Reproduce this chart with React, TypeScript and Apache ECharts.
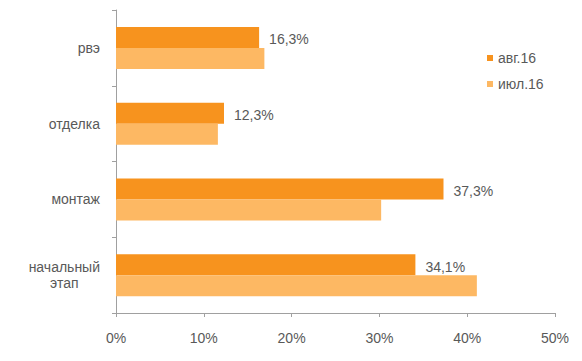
import React, { useEffect, useRef } from "react";
import * as echarts from "echarts";

const categories = ["рвэ", "отделка", "монтаж", "начальный\nэтап"];
const seriesNames = ["авг.16", "июл.16"];
const augValues = [16.3, 12.3, 37.3, 34.1];
const julValues = [16.9, 11.6, 30.2, 41.1];
const xTicks = [0, 10, 20, 30, 40, 50];

const TEXT = "#595959";
const FONT = "'Liberation Sans', Arial, sans-serif";
const FS = 14;

export default function App() {
  const ref = useRef<HTMLDivElement>(null);
  useEffect(() => {
    const chart = echarts.init(ref.current!, null, { renderer: "svg" });
    const tokenStyle = { fontSize: FS, color: TEXT, fontFamily: FONT, lineHeight: 16 };
    chart.setOption({
      animation: false,
      textStyle: { fontFamily: FONT, color: TEXT },
      grid: { left: 108, right: 19, top: 2, bottom: 40 },
      legend: {
        orient: "vertical",
        left: 474,
        top: 38,
        itemWidth: 6,
        itemHeight: 6,
        itemGap: 12,
        icon: "rect",
        textStyle: { fontSize: FS, color: TEXT, fontFamily: FONT },
        data: seriesNames,
      },
      xAxis: {
        type: "value",
        min: xTicks[0],
        max: xTicks[xTicks.length - 1],
        interval: 10,
        splitLine: { show: false },
        axisLine: { show: true, lineStyle: { color: "#a0a0a0" } },
        axisTick: { show: true, length: 4, lineStyle: { color: "#a0a0a0" } },
        axisLabel: {
          formatter: (v: number) => v + "%",
          color: TEXT,
          fontSize: FS,
          margin: 18,
          fontFamily: FONT,
        },
      },
      yAxis: {
        type: "category",
        data: categories,
        inverse: true,
        axisLine: { show: true, lineStyle: { color: "#a0a0a0" } },
        axisTick: { show: true, length: 4, lineStyle: { color: "#a0a0a0" } },
        axisLabel: {
          color: TEXT,
          fontSize: FS,
          margin: 16,
          lineHeight: 16,
          fontFamily: FONT,
          formatter: (v: string) =>
            v
              .split("\n")
              .map((s, i) => (i === 0 ? `{a|${s}}` : `{c|${s}}`))
              .join("\n"),
          rich: {
            a: { ...tokenStyle },
            c: { ...tokenStyle, align: "center" },
          },
        },
      },
      series: [
        {
          name: seriesNames[0],
          type: "bar",
          data: augValues,
          barWidth: 21,
          barGap: "0%",
          itemStyle: { color: "#F7931E" },
          label: {
            show: true,
            position: "right",
            distance: 10,
            offset: [0, 2],
            formatter: (p: any) => String(p.value).replace(".", ",") + "%",
            color: TEXT,
            fontSize: FS,
            fontFamily: FONT,
          },
        },
        {
          name: seriesNames[1],
          type: "bar",
          data: julValues,
          barWidth: 21,
          barGap: "0%",
          itemStyle: { color: "#FDB863" },
        },
      ],
    });
    return () => chart.dispose();
  }, []);
  return <div ref={ref} style={{ width: 566, height: 345 }} />;
}
